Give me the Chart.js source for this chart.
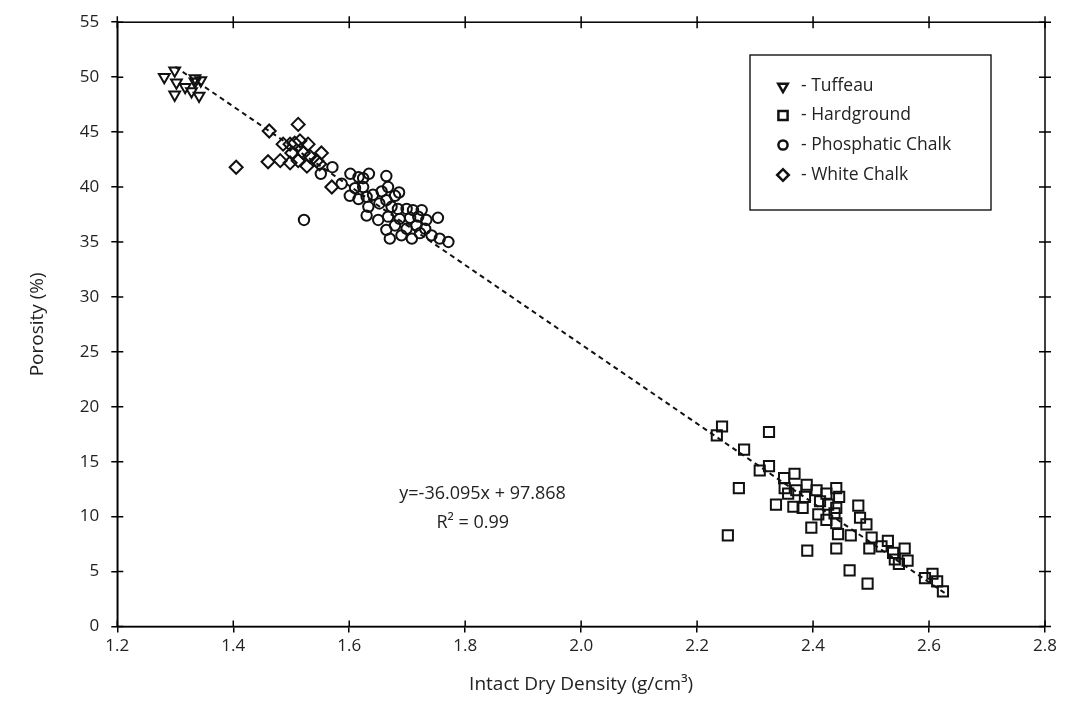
<!DOCTYPE html>
<html><head><meta charset="utf-8">
<script src="https://cdn.jsdelivr.net/npm/chart.js@4.4.0/dist/chart.umd.min.js"></script>
<style>html,body{margin:0;padding:0;background:#fff;}#wrap{width:1081px;height:705px;}</style>
</head><body><div id="wrap"><canvas id="c" width="1081" height="705"></canvas></div>
<script>
const seriesNames = ['Tuffeau','Hardground','Phosphatic Chalk','White Chalk'];
const tuffeauX = [1.281,1.299,1.302,1.299,1.317,1.328,1.334,1.344,1.341,1.334];
const tuffeauY = [50.0,50.6,49.5,48.4,49.1,48.7,49.9,49.7,48.3,49.6];
const hardX = [2.243,2.234,2.324,2.281,2.308,2.324,2.272,2.253,2.350,2.368,2.351,2.357,2.371,2.389,2.386,2.336,2.366,2.382,2.406,2.412,2.423,2.426,2.440,2.445,2.440,2.409,2.423,2.437,2.440,2.397,2.443,2.465,2.390,2.440,2.463,2.494,2.478,2.481,2.492,2.501,2.497,2.529,2.518,2.538,2.558,2.541,2.563,2.548,2.593,2.606,2.614,2.624];
const hardY = [18.2,17.4,17.7,16.1,14.2,14.6,12.6,8.3,13.5,13.9,12.6,12.1,12.4,12.9,11.8,11.1,10.9,10.8,12.4,11.4,12.1,11.1,12.6,11.8,10.8,10.2,9.7,10.3,9.4,9.0,8.4,8.3,6.9,7.1,5.1,3.9,11.0,9.9,9.3,8.1,7.1,7.8,7.3,6.7,7.1,6.1,6.0,5.7,4.4,4.8,4.1,3.2];
const phosX = [1.522,1.551,1.571,1.587,1.602,1.616,1.624,1.634,1.664,1.610,1.624,1.601,1.616,1.630,1.641,1.656,1.667,1.679,1.686,1.633,1.652,1.664,1.673,1.684,1.699,1.710,1.725,1.630,1.650,1.667,1.687,1.705,1.719,1.733,1.753,1.664,1.679,1.699,1.716,1.731,1.670,1.690,1.708,1.722,1.742,1.756,1.771];
const phosY = [37.0,41.2,41.8,40.3,41.2,40.9,40.8,41.2,41.0,39.9,40.0,39.2,38.9,39.1,39.3,39.6,40.0,39.2,39.5,38.2,38.5,38.8,38.2,38.0,38.0,37.9,37.9,37.4,37.0,37.3,37.1,37.2,37.3,37.0,37.2,36.1,36.5,36.2,36.5,36.2,35.3,35.6,35.3,35.8,35.6,35.3,35.0];
const whiteX = [1.405,1.462,1.460,1.512,1.481,1.486,1.498,1.506,1.515,1.529,1.498,1.512,1.527,1.532,1.552,1.501,1.521,1.544,1.549,1.570];
const whiteY = [41.8,45.1,42.3,45.7,42.4,43.9,43.9,44.0,44.2,43.9,42.2,42.4,41.9,42.8,43.1,43.1,43.1,42.4,42.1,40.0];
const trendX = [1.30, 2.63];
const trendY = [50.94, 2.94];
const xTicks = [1.2,1.4,1.6,1.8,2.0,2.2,2.4,2.6,2.8];
const yTicks = [0,5,10,15,20,25,30,35,40,45,50,55];
const equationLines = ['y=-36.095x + 97.868', 'R\u00B2 = 0.99'];
const xTitle = 'Intact Dry Density (g/cm\u00B3)';
const yTitle = 'Porosity (%)';

const FONT = '"Open Sans", Lato, sans-serif';
const toPts = (xs, ys) => xs.map((x, i) => ({x, y: ys[i]}));

const styles = [
  {pointStyle:'triangle', rotation:180, r:6.2, lr:5.5},
  {pointStyle:'rect', rotation:0, r:7.2, lr:6.5},
  {pointStyle:'circle', rotation:0, r:5.2, lr:4.6},
  {pointStyle:'rectRot', rotation:0, r:6.5, lr:5.8}
];
const dataSets = [toPts(tuffeauX,tuffeauY), toPts(hardX,hardY), toPts(phosX,phosY), toPts(whiteX,whiteY)];

const datasets = [{
  type:'line', label:'trend', data: toPts(trendX, trendY),
  borderColor:'#111', borderWidth:2, borderDash:[5,4], pointRadius:0, fill:false, order:5
}];
seriesNames.forEach((n, i) => {
  datasets.push({
    type:'scatter', label:n, data:dataSets[i],
    pointStyle: styles[i].pointStyle, rotation: styles[i].rotation,
    pointRadius: styles[i].r, pointHoverRadius: styles[i].r,
    borderColor:'#111', borderWidth:2, backgroundColor:'rgba(0,0,0,0)', order:1
  });
});

const deco = {
  id:'deco',
  afterDraw(chart) {
    const ctx = chart.ctx, a = chart.chartArea;
    const xs = chart.scales.x, ys = chart.scales.y;
    ctx.save();
    ctx.strokeStyle = '#000'; ctx.lineWidth = 1.5;
    ctx.strokeRect(a.left, a.top, a.right - a.left, a.bottom - a.top);
    ctx.beginPath();
    xTicks.forEach(v => {
      const p = xs.getPixelForValue(v);
      ctx.moveTo(p, a.bottom); ctx.lineTo(p, a.bottom - 6);
      ctx.moveTo(p, a.top - 6); ctx.lineTo(p, a.top + 6);
    });
    yTicks.forEach(v => {
      const p = ys.getPixelForValue(v);
      ctx.moveTo(a.left, p); ctx.lineTo(a.left + 6, p);
      ctx.moveTo(a.right - 6, p); ctx.lineTo(a.right + 6, p);
    });
    ctx.stroke();

    // legend
    const lx = 750, ly = 55, lw = 241, lh = 155;
    ctx.fillStyle = '#fff';
    ctx.fillRect(lx, ly, lw, lh);
    ctx.lineWidth = 1.3;
    ctx.strokeRect(lx, ly, lw, lh);
    const rows = [86.5, 115.5, 145, 175];
    ctx.font = '17.5px ' + FONT;
    ctx.textBaseline = 'middle'; ctx.textAlign = 'left';
    seriesNames.forEach((n, i) => {
      ctx.strokeStyle = '#111'; ctx.fillStyle = 'rgba(0,0,0,0)'; ctx.lineWidth = 2.5;
      Chart.helpers.drawPoint(ctx, {pointStyle: styles[i].pointStyle, rotation: styles[i].rotation, radius: styles[i].lr, borderWidth: 2.5}, 783, rows[i]);
      ctx.fillStyle = '#222';
      ctx.fillText('- ' + n, 801, rows[i]);
    });

    // equation
    ctx.fillStyle = '#222';
    ctx.font = '18px ' + FONT;
    ctx.textAlign = 'center';
    ctx.fillText(equationLines[0], xs.getPixelForValue(1.83), ys.getPixelForValue(12.1));
    ctx.fillText(equationLines[1], xs.getPixelForValue(1.813), ys.getPixelForValue(9.4));

    // axis titles
    ctx.font = '19px ' + FONT;
    ctx.fillText(xTitle, (a.left + a.right) / 2, 685);
    ctx.translate(38, (a.top + a.bottom) / 2);
    ctx.rotate(-Math.PI / 2);
    ctx.fillText(yTitle, 0, 0);
    ctx.restore();
  }
};

new Chart(document.getElementById('c'), {
  data: { datasets },
  options: {
    responsive:false, animation:false, devicePixelRatio:1,
    layout:{ padding:{ top:14, right:36, left:0, bottom:0 } },
    plugins:{ legend:{display:false}, tooltip:{enabled:false} },
    scales:{
      x:{ type:'linear', min:1.2, max:2.8,
        afterBuildTicks: s => { s.ticks = xTicks.map(v => ({value:v})); },
        afterFit: s => { s.height = 78.5; },
        ticks:{ color:'#222', font:{family:FONT, size:17}, padding:3, callback: v => Number(v).toFixed(1), maxRotation:0 },
        grid:{ drawOnChartArea:false, tickLength:6, color:'#000', lineWidth:1.5 },
        border:{ display:true, color:'#000', width:1.5 }
      },
      y:{ type:'linear', min:0, max:55,
        afterBuildTicks: s => { s.ticks = yTicks.map(v => ({value:v})); },
        afterFit: s => { s.width = 117.3; },
        ticks:{ color:'#222', font:{family:FONT, size:17}, padding:12 },
        grid:{ drawOnChartArea:false, tickLength:6, color:'#000', lineWidth:1.5 },
        border:{ display:true, color:'#000', width:1.5 }
      }
    }
  },
  plugins:[deco]
});
</script></body></html>
